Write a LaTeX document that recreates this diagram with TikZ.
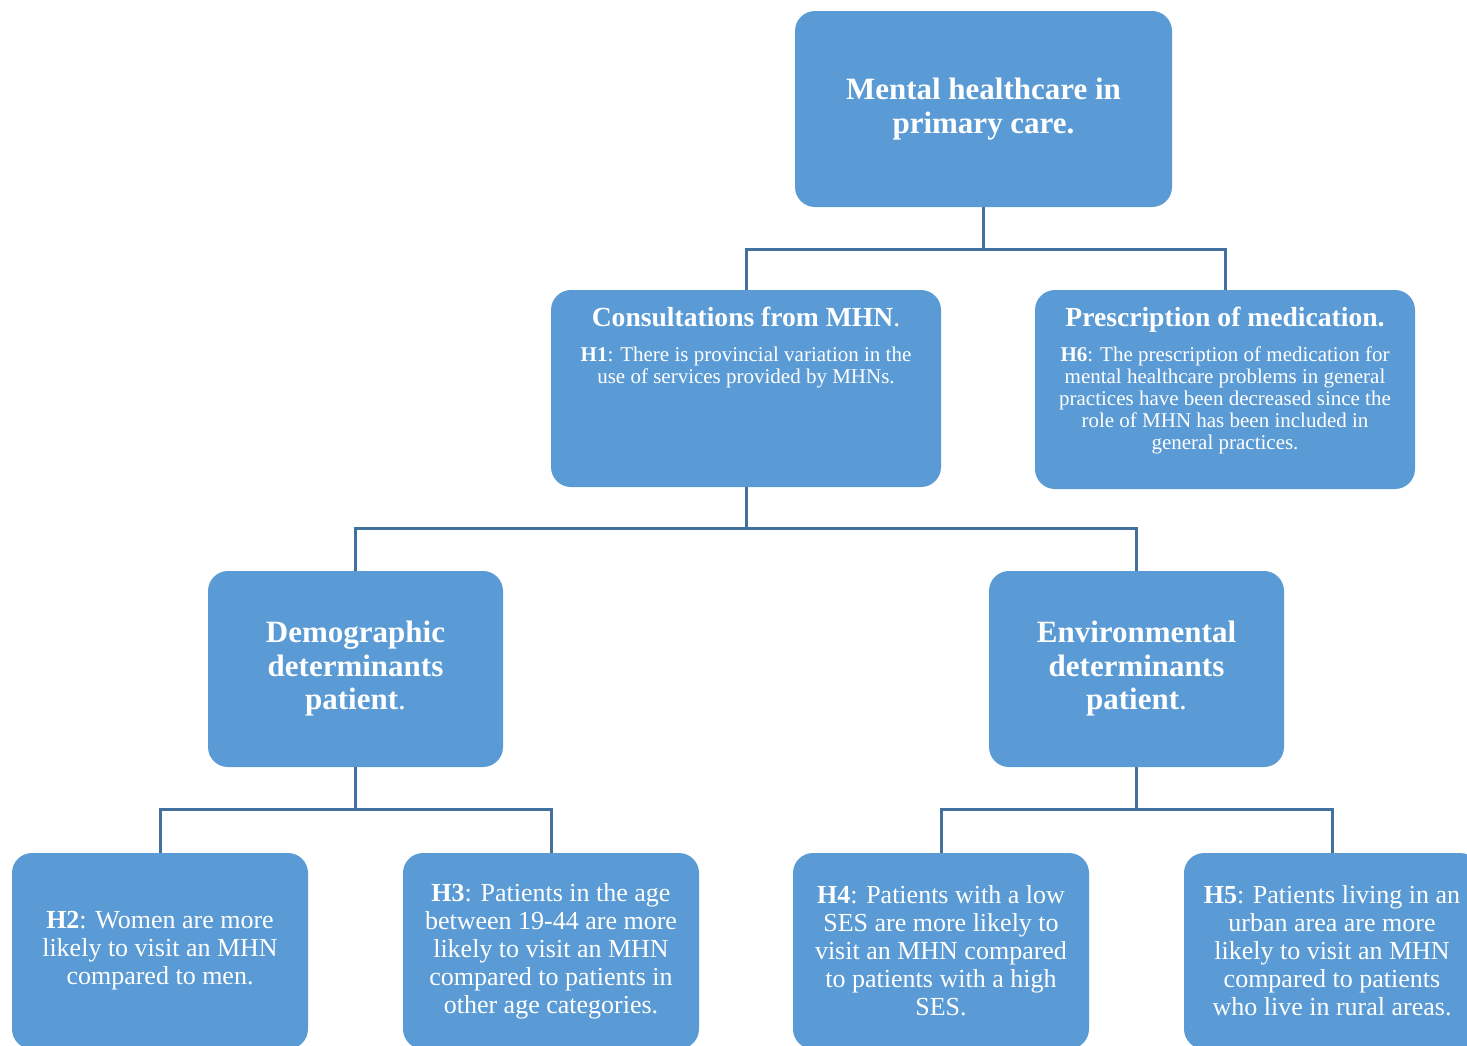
\documentclass[tikz,border=0pt]{standalone}
\usepackage{fontspec}
\setmainfont{LiberationSerif}[Extension=.ttf, UprightFont=*-Regular, BoldFont=*-Bold, ItalicFont=*-Italic, BoldItalicFont=*-BoldItalic]
\usepackage{xcolor}
\usetikzlibrary{positioning}
\definecolor{boxblue}{HTML}{5B9BD5}
\definecolor{linkblue}{HTML}{41719C}

\begin{document}
\begin{tikzpicture}[
    x=0.5pt, y=-0.5pt,
    box/.style={fill=boxblue, rounded corners=10pt, text=white, align=center, inner sep=0pt},
    topbox/.style={box, minimum width=188.5pt, minimum height=98pt, font=\fontsize{15.5}{17}\selectfont\bfseries},
    midbox/.style={box, minimum width=195pt, minimum height=98.5pt},
    detbox/.style={box, minimum width=147.5pt, minimum height=98pt, font=\fontsize{15.5}{16.75}\selectfont\bfseries},
    hypbox/.style={box, minimum width=148pt, minimum height=98pt, font=\fontsize{13}{14}\selectfont},
    boxtext/.style={text=white, align=center, inner sep=0pt, font=\fontsize{10.5}{11}\selectfont},
    link/.style={draw=linkblue, line width=1.5pt},
  ]
  \useasboundingbox (0,0) rectangle (1467,1045);
  \clip (0,0) rectangle (1467,1045);
  % Main topic
  \node[topbox] (top) at (983.5,109) {Mental healthcare in\\primary care.};
  % Consultations and prescription
  \node[midbox] (cons) at (746,388.5) {};
  \node[boxtext, anchor=north] (constext) at ([yshift=-8.5pt]cons.north)
    {{\fontsize{13.8}{15}\selectfont\textbf{Consultations from MHN}.}\\[6.5pt]
     \textbf{H1}: There is provincial variation in the\\use of services provided by MHNs.};
  \node[midbox, minimum width=190pt, minimum height=99.5pt] (pres) at (1225,389.5) {};
  \node[boxtext, anchor=north] (prestext) at ([yshift=-8.5pt]pres.north)
    {{\fontsize{13.8}{15}\selectfont\textbf{Prescription of medication.}}\\[6.5pt]
     \textbf{H6}: The prescription of medication for\\mental healthcare problems in general\\practices have been decreased since the\\role of MHN has been included in\\general practices.};
  \draw[link] (top.south) -- ++(0,42) -| (cons.north);
  \draw[link] (top.south) -- ++(0,42) -| (pres.north);
  % Determinants
  \node[detbox] (demo) at (355.5,669) {Demographic\\determinants\\patient\textmd{.}};
  \node[detbox] (env) at (1136.5,669) {Environmental\\determinants\\patient\textmd{.}};
  \draw[link] (cons.south) -- ++(0,41) -| (demo.north);
  \draw[link] (cons.south) -- ++(0,41) -| (env.north);
  % Hypotheses
  \node[hypbox] (hyptwo) at (160,951) {\textbf{H2}: Women are more\\likely to visit an MHN\\compared to men.};
  \node[hypbox] (hypthree) at (551,951) {\textbf{H3}: Patients in the age\\between 19-44 are more\\likely to visit an MHN\\compared to patients in\\other age categories.};
  \node[hypbox] (hypfour) at (941,951) {\textbf{H4}: Patients with a low\\SES are more likely to\\visit an MHN compared\\to patients with a high\\SES.};
  \node[hypbox] (hypfive) at (1332,951) {\textbf{H5}: Patients living in an\\urban area are more\\likely to visit an MHN\\compared to patients\\who live in rural areas.};
  \draw[link] (demo.south) -- ++(0,42) -| (hyptwo.north);
  \draw[link] (demo.south) -- ++(0,42) -| (hypthree.north);
  \draw[link] (env.south) -- ++(0,42) -| (hypfour.north);
  \draw[link] (env.south) -- ++(0,42) -| (hypfive.north);
\end{tikzpicture}
\end{document}
